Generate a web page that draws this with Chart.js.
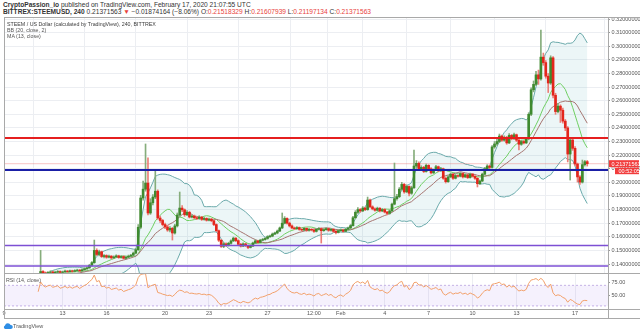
<!DOCTYPE html>
<html>
<head>
<meta charset="utf-8">
<script src="https://cdn.jsdelivr.net/npm/chart.js@4.4.1/dist/chart.umd.min.js"></script>
<style>
  body { margin: 0; width: 640px; height: 334px; background: #fff; position: relative; overflow: hidden;
         font-family: "Liberation Sans", Arial, sans-serif; }
  canvas { position: absolute; left: 0; }
  .txt { position: absolute; white-space: nowrap; }
  .hdr { left: 3px; font-size: 6.6px; color: #333; line-height: 8px; }
  .red { color: #e8413c; }
  .legend { left: 7px; top: 20.5px; font-size: 5.3px; line-height: 6px; color: #555; }
  .legend div:first-child { color: #3a3a3a; }
  .line { position: absolute; background: #a9a9a9; }
</style>
</head>
<body>
<div class="txt hdr" style="top:1px"><b>CryptoPassion_io</b> published on TradingView.com, February 17, 2020 21:07:55 UTC</div>
<div class="txt hdr" style="top:7.5px"><b>BITTREX:STEEMUSD, 240</b> 0.21371563 <span class="red">▼</span> −0.01874164 (−8.06%) O:<span class="red">0.21518329</span> H:<span class="red">0.21607939</span> L:<span class="red">0.21197134</span> C:<span class="red">0.21371563</span></div>

<canvas id="main" width="640" height="256" style="top:17px"></canvas>
<canvas id="rsi" width="640" height="46" style="top:273px"></canvas>

<div class="txt legend">
  <div>STEEM / US Dollar (calculated by TradingView), 240, BITTREX</div>
  <div>BB (20, close, 2)</div>
  <div>MA (13, close)</div>
</div>
<div class="txt legend" style="top:277px; left:6px">RSI (14, close)</div>

<div class="line" style="left:4px; top:17px; width:636px; height:1px"></div>
<div class="line" style="left:4px; top:17px; width:1px; height:302px"></div>
<div class="line" style="left:4px; top:318px; width:636px; height:1px"></div>
<div class="line" style="left:608px; top:17px; width:1px; height:302px"></div>
<div class="line" style="left:4px; top:273px; width:636px; height:1px"></div>
<div class="line" style="left:4px; top:309px; width:636px; height:1px"></div>

<div class="txt" style="left:3px; top:323px; font-size:5.5px; color:#555; line-height:7px">
  <svg width="10" height="6" viewBox="0 0 10 6" style="vertical-align:-1px"><path d="M2 6 A2 2 0 0 1 2 2.4 A3 3 0 0 1 7.6 2 A2 2 0 0 1 8 6 Z" fill="#2f8ee5"/></svg>TradingView
</div>

<script>
// 4h candles, index 0 = Jan 9 00:00, last = Feb 17 20:00
const closes = [
  0.1285,0.1280,0.1276,0.1272,0.1275,0.1268,0.1262,0.1270,0.1274,0.1278,
  0.1282,0.1286,0.1284,0.1290,0.1295,0.1345,0.1335,0.1330,0.1338,0.1342,
  0.1336,0.1340,0.1345,0.1338,0.1342,0.1348,0.1344,0.1350,0.1346,0.1352,
  0.1355,0.1350,0.1358,0.1365,0.1372,0.1390,0.1410,0.1500,0.1470,0.1490,
  0.1455,0.1462,0.1450,0.1458,0.1445,0.1452,0.1460,0.1448,0.1455,0.1442,
  0.1450,0.1458,0.1465,0.1480,0.1505,0.1670,0.1885,0.1950,0.1995,0.1775,
  0.1850,0.1892,0.1935,0.1738,0.1720,0.1690,0.1672,0.1650,0.1662,0.1628,
  0.1680,0.1760,0.1811,0.1798,0.1762,0.1780,0.1745,0.1752,0.1740,0.1735,
  0.1745,0.1728,0.1735,0.1722,0.1730,0.1718,0.1690,0.1645,0.1575,0.1530,
  0.1548,0.1538,0.1552,0.1570,0.1590,0.1572,0.1545,0.1532,0.1548,0.1535,
  0.1522,0.1532,0.1555,0.1570,0.1558,0.1575,0.1580,0.1588,0.1600,0.1605,
  0.1620,0.1628,0.1642,0.1665,0.1700,0.1735,0.1700,0.1680,0.1665,0.1660,
  0.1668,0.1655,0.1650,0.1662,0.1648,0.1655,0.1650,0.1640,0.1655,0.1660,
  0.1645,0.1652,0.1660,0.1648,0.1655,0.1640,0.1632,0.1645,0.1650,0.1640,
  0.1655,0.1665,0.1682,0.1740,0.1780,0.1800,0.1790,0.1811,0.1800,0.1870,
  0.1820,0.1805,0.1795,0.1810,0.1790,0.1800,0.1782,0.1772,0.1790,0.1840,
  0.1880,0.1895,0.1950,0.1985,0.1930,0.1970,0.1920,0.1960,0.2120,0.2140,
  0.2100,0.2110,0.2080,0.2125,0.2100,0.2070,0.2090,0.2115,0.2085,0.2100,
  0.2030,0.2005,0.2040,0.2060,0.2030,0.2050,0.2045,0.2065,0.2040,0.2055,
  0.2035,0.2060,0.2045,0.2030,0.1990,0.2010,0.2060,0.2100,0.2120,0.2110,
  0.2260,0.2282,0.2300,0.2340,0.2310,0.2330,0.2290,0.2345,0.2320,0.2350,
  0.2310,0.2280,0.2300,0.2290,0.2320,0.2500,0.2680,0.2720,0.2790,0.2760,
  0.2920,0.2880,0.2780,0.2730,0.2915,0.2640,0.2520,0.2560,0.2530,0.2450,
  0.2400,0.2208,0.2311,0.2250,0.2135,0.2040,0.2002,0.2130,0.2152,0.21371563
];
const highs = [
  0.1293,0.1290,0.1285,0.1280,0.1282,0.1278,0.1272,0.1276,0.1280,0.1284,
  0.1289,0.1294,0.1292,0.1297,0.1303,0.1500,0.1352,0.1342,0.1345,0.1350,
  0.1348,0.1347,0.1352,0.1350,0.1348,0.1355,0.1353,0.1356,0.1355,0.1358,
  0.1362,0.1360,0.1364,0.1372,0.1380,0.1398,0.1418,0.1576,0.1512,0.1502,
  0.1495,0.1470,0.1468,0.1466,0.1462,0.1460,0.1468,0.1465,0.1462,0.1460,
  0.1458,0.1466,0.1472,0.1488,0.1515,0.1690,0.1905,0.2010,0.2282,0.2180,
  0.1880,0.1910,0.2091,0.1945,0.1752,0.1728,0.1700,0.1685,0.1675,0.1670,
  0.1692,0.1775,0.1929,0.1830,0.1805,0.1792,0.1788,0.1762,0.1760,0.1748,
  0.1755,0.1750,0.1745,0.1740,0.1738,0.1735,0.1722,0.1695,0.1650,0.1580,
  0.1558,0.1555,0.1560,0.1578,0.1598,0.1595,0.1578,0.1552,0.1555,0.1552,
  0.1540,0.1540,0.1562,0.1578,0.1575,0.1582,0.1588,0.1595,0.1608,0.1612,
  0.1628,0.1635,0.1650,0.1672,0.1775,0.1748,0.1740,0.1708,0.1688,0.1672,
  0.1675,0.1672,0.1660,0.1670,0.1666,0.1662,0.1660,0.1656,0.1662,0.1668,
  0.1665,0.1660,0.1668,0.1664,0.1662,0.1660,0.1645,0.1652,0.1658,0.1656,
  0.1662,0.1672,0.1690,0.1750,0.1792,0.1815,0.1808,0.1822,0.1818,0.1892,
  0.1878,0.1828,0.1812,0.1818,0.1815,0.1808,0.1806,0.1788,0.1798,0.1848,
  0.2142,0.1912,0.1962,0.2000,0.1992,0.1982,0.1975,0.1972,0.2238,0.2160,
  0.2150,0.2122,0.2118,0.2135,0.2130,0.2108,0.2098,0.2125,0.2120,0.2110,
  0.2105,0.2040,0.2050,0.2068,0.2065,0.2058,0.2056,0.2072,0.2070,0.2062,
  0.2060,0.2068,0.2065,0.2050,0.2035,0.2018,0.2068,0.2110,0.2130,0.2128,
  0.2270,0.2300,0.2318,0.2355,0.2348,0.2342,0.2338,0.2358,0.2352,0.2362,
  0.2355,0.2318,0.2310,0.2308,0.2330,0.2512,0.2695,0.2745,0.2815,0.2825,
  0.3119,0.2950,0.2895,0.2800,0.2930,0.2925,0.2655,0.2580,0.2570,0.2545,
  0.2462,0.2410,0.2330,0.2320,0.2262,0.2142,0.2050,0.2164,0.2161,0.21607939
];
const lows = [
  0.1277,0.1273,0.1269,0.1265,0.1266,0.1262,0.1255,0.1258,0.1266,0.1270,
  0.1273,0.1277,0.1278,0.1280,0.1286,0.1290,0.1326,0.1322,0.1325,0.1332,
  0.1330,0.1331,0.1335,0.1332,0.1333,0.1338,0.1338,0.1340,0.1340,0.1342,
  0.1347,0.1344,0.1346,0.1354,0.1360,0.1368,0.1385,0.1405,0.1462,0.1460,
  0.1448,0.1445,0.1442,0.1444,0.1438,0.1440,0.1446,0.1442,0.1443,0.1436,
  0.1438,0.1446,0.1452,0.1460,0.1475,0.1500,0.1660,0.1870,0.1935,0.1760,
  0.1765,0.1835,0.1880,0.1728,0.1705,0.1680,0.1660,0.1640,0.1635,0.1576,
  0.1620,0.1672,0.1750,0.1785,0.1750,0.1755,0.1738,0.1738,0.1732,0.1726,
  0.1728,0.1720,0.1722,0.1715,0.1716,0.1710,0.1682,0.1638,0.1565,0.1522,
  0.1520,0.1530,0.1532,0.1545,0.1565,0.1565,0.1538,0.1525,0.1528,0.1528,
  0.1512,0.1518,0.1528,0.1550,0.1552,0.1555,0.1570,0.1575,0.1582,0.1595,
  0.1600,0.1615,0.1622,0.1638,0.1660,0.1695,0.1692,0.1672,0.1658,0.1652,
  0.1654,0.1648,0.1642,0.1645,0.1640,0.1642,0.1643,0.1632,0.1635,0.1650,
  0.1554,0.1640,0.1648,0.1640,0.1642,0.1632,0.1622,0.1628,0.1640,0.1634,
  0.1636,0.1650,0.1660,0.1678,0.1735,0.1772,0.1780,0.1785,0.1792,0.1795,
  0.1812,0.1798,0.1788,0.1790,0.1782,0.1784,0.1775,0.1760,0.1766,0.1785,
  0.1835,0.1870,0.1888,0.1942,0.1920,0.1925,0.1900,0.1912,0.1955,0.2105,
  0.2090,0.2092,0.2072,0.2075,0.2092,0.2062,0.2065,0.2085,0.2078,0.2080,
  0.2022,0.1995,0.2000,0.2035,0.2022,0.2025,0.2038,0.2040,0.2032,0.2035,
  0.2028,0.2030,0.2038,0.2022,0.1966,0.1985,0.2005,0.2055,0.2095,0.2100,
  0.2105,0.2250,0.2272,0.2292,0.2300,0.2302,0.2280,0.2285,0.2312,0.2315,
  0.2300,0.2238,0.2272,0.2282,0.2285,0.2312,0.2490,0.2665,0.2710,0.2720,
  0.2750,0.2860,0.2765,0.2660,0.2720,0.2620,0.2500,0.2510,0.2440,0.2435,
  0.2380,0.2150,0.2017,0.2235,0.2120,0.2002,0.1985,0.1995,0.2120,0.21197134
];

const tickIdx = [0, 24, 42, 66, 84, 108, 127, 138, 156, 174, 192, 210, 234];
const tickLabels = ['9', '13', '16', '20', '23', '27', '12:00', 'Feb', '4', '7', '10', '13', '17'];

const resistanceRed = 0.2326;
const supportBlue = 0.2091;
const supportPurple = [0.1536, 0.1385];
const lastPrice = 0.21371563;
const countdown = '00:52:05';

const xMax = 247.5;
const yMin = 0.1334, yMax = 0.3215;
const rsiMin = 24, rsiMax = 94;

const UP = '#3f8a2f', DOWN = '#e3261c';
const UP_WICK = '#86ad7c', DOWN_WICK = '#ec7f78';
const GRID = '#eceef2';
const tickFont = { family: '"Liberation Sans", Arial, sans-serif', size: 5.5 };

// each 4h candle opens at the previous close
const opens = closes.map((c, i) => i === 0 ? c : closes[i - 1]);
const isUp = closes.map((c, i) => c >= opens[i]);

function sma(arr, len) {
  return arr.map((_, i) => {
    if (i < len - 1) return null;
    let s = 0;
    for (let k = i - len + 1; k <= i; k++) s += arr[k];
    return s / len;
  });
}

const basis = sma(closes, 20);
const bbUpper = [], bbLower = [];
basis.forEach((m, i) => {
  if (m === null) { bbUpper.push(null); bbLower.push(null); return; }
  let v = 0;
  for (let k = i - 19; k <= i; k++) v += (closes[k] - m) ** 2;
  const sd = Math.sqrt(v / 20);
  bbUpper.push(m + 2 * sd);
  bbLower.push(m - 2 * sd);
});
const ma13 = sma(closes, 13);

// RSI 14, Wilder smoothing
const rsi = closes.map(() => null);
let ag = 0, al = 0;
for (let i = 1; i < closes.length; i++) {
  const d = closes[i] - closes[i - 1];
  const g = Math.max(d, 0), l = Math.max(-d, 0);
  if (i <= 14) {
    ag += g / 14; al += l / 14;
    if (i === 14) rsi[i] = al === 0 ? 100 : 100 - 100 / (1 + ag / al);
  } else {
    ag = (ag * 13 + g) / 14; al = (al * 13 + l) / 14;
    rsi[i] = al === 0 ? 100 : 100 - 100 / (1 + ag / al);
  }
}

const pts = arr => arr.map((v, i) => ({ x: i, y: v }));
const clip = { left: 0, top: 0, right: 0, bottom: 0 };

function hline(v, color, width, order, dash) {
  return {
    type: 'line', data: [{ x: 0, y: v }, { x: xMax, y: v }],
    borderColor: color, borderWidth: width, pointRadius: 0, order, clip,
    borderDash: dash || [], fill: false
  };
}
function curve(arr, color, order, extra) {
  return Object.assign({
    type: 'line', data: pts(arr), borderColor: color, borderWidth: 1,
    pointRadius: 0, tension: 0, order, clip, fill: false
  }, extra || {});
}

// no label padding around the plot: panes must sit exactly on the frame
function noPad(s) { s.paddingTop = 0; s.paddingBottom = 0; s.paddingLeft = 0; s.paddingRight = 0; }

function xScale(showLabels) {
  return {
    type: 'linear', min: 0, max: xMax, offset: false,
    afterBuildTicks: s => { s.ticks = tickIdx.map(v => ({ value: v })); },
    ticks: {
      display: showLabels, autoSkip: false, maxRotation: 0, padding: 1.5,
      font: tickFont, color: '#555',
      callback: (v, i) => tickLabels[i]
    },
    grid: { color: GRID, drawTicks: false },
    border: { display: false },
    afterFit: s => { s.height = showLabels ? 10 : 0; noPad(s); }
  };
}

const priceTag = {
  id: 'priceTag',
  afterDraw(chart) {
    const { ctx, chartArea } = chart;
    const y = chart.scales.y.getPixelForValue(lastPrice);
    ctx.save();
    ctx.fillStyle = '#f23c3c';
    ctx.fillRect(chartArea.right + 1, y - 3.5, 30, 7);
    ctx.fillRect(chartArea.right + 7, y + 4, 24, 6.5);
    ctx.fillStyle = '#fff';
    ctx.font = '5.5px "Liberation Sans", Arial, sans-serif';
    ctx.textBaseline = 'middle';
    ctx.fillText(lastPrice.toFixed(8), chartArea.right + 3.5, y + 0.3);
    ctx.fillText(countdown, chartArea.right + 10.5, y + 7.5);
    ctx.restore();
  }
};

new Chart(document.getElementById('main'), {
  type: 'bar',
  data: {
    datasets: [
      curve(bbUpper, '#6aa9aa', 10, { fill: '+1', backgroundColor: 'rgba(110,185,190,0.13)' }),
      curve(bbLower, '#6aa9aa', 10),
      curve(basis, '#a57470', 8),
      curve(ma13, '#6fcf62', 8),
      hline(lastPrice, 'rgba(236,90,90,0.35)', 1, 9),
      {
        type: 'bar', order: 6, clip, grouped: false, barThickness: 1,
        data: closes.map((c, i) => ({ x: i, y: [lows[i], highs[i]] })),
        backgroundColor: isUp.map(u => u ? UP_WICK : DOWN_WICK)
      },
      {
        type: 'bar', order: 5, clip, grouped: false, barThickness: 2,
        data: closes.map((c, i) => ({ x: i, y: [opens[i], c] })),
        backgroundColor: isUp.map(u => u ? UP : DOWN)
      },
      hline(resistanceRed, '#e51f1f', 2, 1),
      hline(supportBlue, '#1a1fa6', 2, 1),
      hline(supportPurple[0], '#7d4fd4', 1.5, 1),
      hline(supportPurple[1], '#7d4fd4', 1.5, 1)
    ]
  },
  options: {
    responsive: false, animation: false, devicePixelRatio: 1,
    layout: { padding: { left: 4, right: 0, top: 0, bottom: 0 } },
    plugins: { legend: { display: false }, tooltip: { enabled: false } },
    scales: {
      x: xScale(false),
      y: {
        position: 'right', min: yMin, max: yMax,
        ticks: {
          stepSize: 0.01, includeBounds: false, padding: 1.5,
          font: tickFont, color: '#555', callback: v => v.toFixed(8)
        },
        grid: { color: GRID, tickLength: 2, tickColor: '#999' },
        border: { display: false },
        afterFit: s => { s.width = 32; noPad(s); }
      }
    }
  },
  plugins: [priceTag]
});

const rsiBandTop = hline(70, '#c6b3e6', 1, 5, [2, 2]);
rsiBandTop.fill = '+1';
rsiBandTop.backgroundColor = 'rgba(160,120,240,0.1)';

new Chart(document.getElementById('rsi'), {
  type: 'line',
  data: {
    datasets: [
      rsiBandTop,
      hline(30, '#c6b3e6', 1, 5, [2, 2]),
      curve(rsi, '#f2a06a', 1)
    ]
  },
  options: {
    responsive: false, animation: false, devicePixelRatio: 1,
    layout: { padding: { left: 4, right: 0, top: 0, bottom: 0 } },
    plugins: { legend: { display: false }, tooltip: { enabled: false } },
    scales: {
      x: xScale(true),
      y: {
        position: 'right', min: rsiMin, max: rsiMax,
        afterBuildTicks: s => { s.ticks = [{ value: 50 }, { value: 75 }]; },
        ticks: { padding: 1.5, font: tickFont, color: '#555', callback: v => v.toFixed(2) },
        grid: { drawOnChartArea: false, tickLength: 2, tickColor: '#999' },
        border: { display: false },
        afterFit: s => { s.width = 32; noPad(s); }
      }
    }
  }
});
</script>
</body>
</html>
